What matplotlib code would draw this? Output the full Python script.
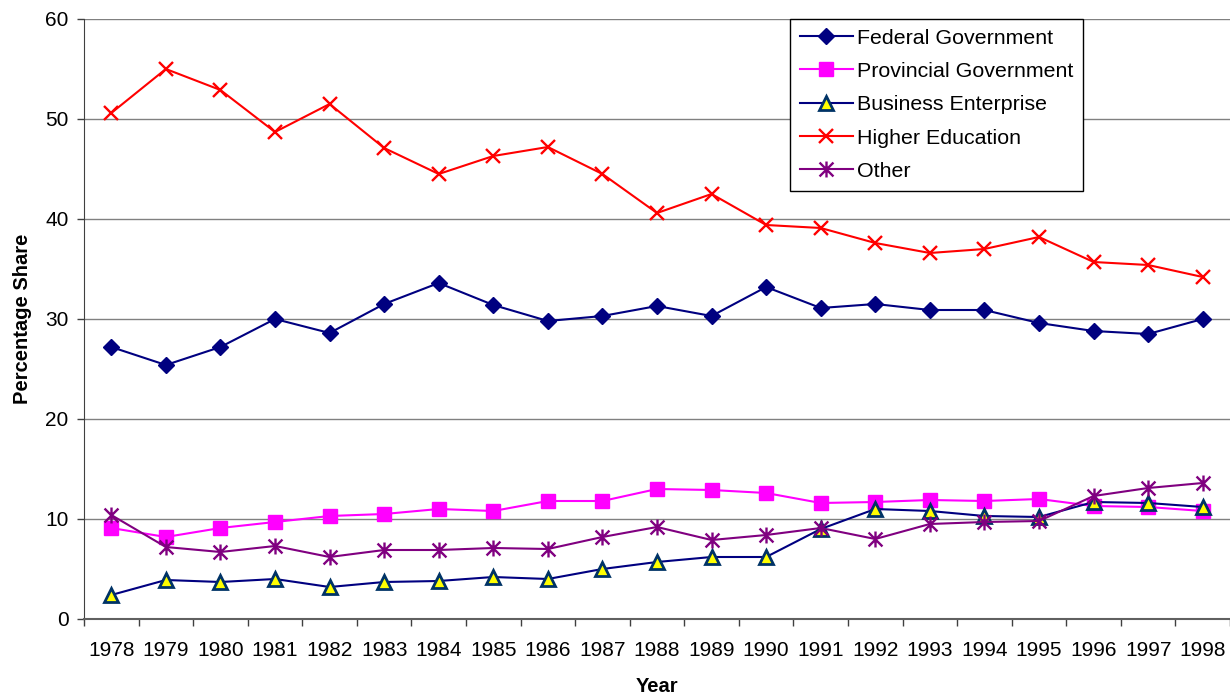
import numpy as np
import matplotlib
matplotlib.use("Agg")
import matplotlib.pyplot as plt
from matplotlib.path import Path

years = [str(y) for y in range(1978, 1999)]

federal = [27.2, 25.4, 27.2, 30.0, 28.6, 31.5, 33.6, 31.4, 29.8, 30.3, 31.3,
           30.3, 33.2, 31.1, 31.5, 30.9, 30.9, 29.6, 28.8, 28.5, 30.0]
provincial = [9.1, 8.2, 9.1, 9.7, 10.3, 10.5, 11.0, 10.8, 11.8, 11.8, 13.0,
              12.9, 12.6, 11.6, 11.7, 11.9, 11.8, 12.0, 11.3, 11.2, 10.8]
business = [2.4, 3.9, 3.7, 4.0, 3.2, 3.7, 3.8, 4.2, 4.0, 5.0, 5.7,
            6.2, 6.2, 9.0, 11.0, 10.8, 10.3, 10.2, 11.7, 11.6, 11.2]
higher_ed = [50.6, 55.0, 52.9, 48.7, 51.5, 47.1, 44.5, 46.3, 47.2, 44.5, 40.6,
             42.5, 39.4, 39.1, 37.6, 36.6, 37.0, 38.2, 35.7, 35.4, 34.2]
other = [10.4, 7.2, 6.7, 7.3, 6.2, 6.9, 6.9, 7.1, 7.0, 8.2, 9.2,
         7.9, 8.4, 9.1, 8.0, 9.5, 9.7, 9.8, 12.3, 13.1, 13.6]

plt.rcParams['font.family'] = ['Liberation Sans', 'DejaVu Sans']

# excel style asterisk: an x with a vertical bar through it
star = Path([(-0.87, -0.87), (0.87, 0.87), (-0.87, 0.87), (0.87, -0.87), (0, -1), (0, 1)],
            [Path.MOVETO, Path.LINETO, Path.MOVETO, Path.LINETO, Path.MOVETO, Path.LINETO])

fig = plt.figure(figsize=(12.3, 6.96), dpi=100)
ax = fig.add_axes([84/1230, 1 - 619/696, 1146/1230, 600/696])

x = np.arange(len(years))
lw = 1.5
ax.plot(x, federal, color='#000080', lw=lw, marker='D', ms=8.5, label='Federal Government', zorder=3)
ax.plot(x, provincial, color='#FF00FF', lw=lw, marker='s', ms=10, label='Provincial Government', zorder=3)
ax.plot(x, business, color='#000080', lw=lw, marker='^', ms=10, mfc='#FFFF00', mec='#003366',
        mew=2, label='Business Enterprise', zorder=3)
ax.plot(x, higher_ed, color='#FF0000', lw=lw, marker='x', ms=10, mew=1.7, label='Higher Education', zorder=3)
ax.plot(x, other, color='#800080', lw=lw, marker=star, ms=11.5, mew=1.7, label='Other', zorder=3)

ax.set_xlim(-0.5, len(years) - 0.5)
ax.set_ylim(0, 60)
ax.set_yticks(range(0, 61, 10))
ax.set_xticks(x)
ax.set_xticklabels(years)
ax.set_xticks(np.arange(-0.5, len(years), 1), minor=True)
ax.tick_params(axis='x', which='major', length=0, pad=16, labelsize=15)
ax.tick_params(axis='x', which='minor', length=5, width=1, color='#404040')
ax.tick_params(axis='y', length=5, width=1, color='#404040', pad=6, labelsize=15)

ax.grid(axis='y', color='#808080', lw=1)
ax.set_axisbelow(True)
for s in ['top', 'right']:
    ax.spines[s].set_visible(False)
ax.spines['left'].set_color('#404040')
ax.spines['bottom'].set_color('#606060')
ax.spines['bottom'].set_linewidth(1.5)

ax.set_ylabel('Percentage Share', fontsize=14.5, fontweight='bold', va='center')
ax.yaxis.set_label_coords(-0.054, 0.5)
ax.set_xlabel('Year', fontsize=14.5, fontweight='bold', va='center')
ax.xaxis.set_label_coords(0.5, -0.113)

leg = fig.legend(loc='upper left', bbox_to_anchor=(790/1230, 1 - 19/696), borderaxespad=0,
                 fontsize=15.4, frameon=True, fancybox=False, framealpha=1, edgecolor='black',
                 handlelength=2.5, handletextpad=0.2, labelspacing=0.67, borderpad=0.45)
leg.get_frame().set_linewidth(1)

fig.savefig('out.png', dpi=100)
